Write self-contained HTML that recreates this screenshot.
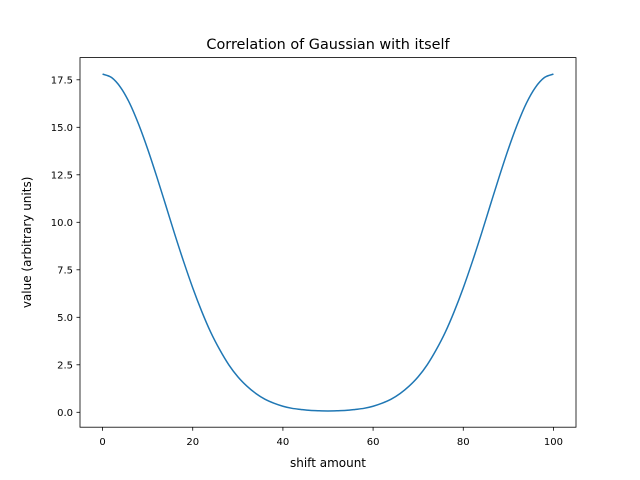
<!DOCTYPE html>
<html><head><meta charset="utf-8"><style>
body{margin:0;background:#fff;}
svg{display:block;font-family:"DejaVu Sans","Liberation Sans",sans-serif;}
</style></head><body>
<svg id="chart" width="640" height="480" viewBox="0 0 640 480">
<rect width="640" height="480" fill="#fff"/>
<text x="328" y="49" text-anchor="middle" font-size="14.4">Correlation of Gaussian with itself</text>
<g id="xt"></g>
<g id="yt"></g>
<path id="line" fill="none" stroke="#1f77b4" stroke-width="1.5"/>
<rect x="80" y="57.6" width="496" height="369.6" fill="none" stroke="#000" stroke-width="0.8"/>
<text x="328" y="467" text-anchor="middle" font-size="12">shift amount</text>
<text transform="translate(31,242.4) rotate(-90)" text-anchor="middle" font-size="12">value (arbitrary units)</text>
</svg>
<script>
const xs = [0,2,4,6,8,10,12,14,16,18,20,22,24,26,28,30,32,34,36,38,40,42,44,46,48,50,52,54,56,58,60,62,64,66,68,70,72,74,76,78,80,82,84,86,88,90,92,94,96,98,100];
const ys = [17.80,17.62,17.10,16.27,15.16,13.86,12.42,10.91,9.38,7.92,6.55,5.31,4.21,3.29,2.50,1.87,1.38,0.99,0.69,0.48,0.32,0.21,0.15,0.10,0.08,0.07,0.08,0.10,0.15,0.21,0.32,0.48,0.69,0.99,1.38,1.87,2.50,3.29,4.21,5.31,6.55,7.92,9.38,10.91,12.42,13.86,15.16,16.27,17.10,17.62,17.80];
const xTicks = [0,20,40,60,80,100];
const yTicks = [0,2.5,5,7.5,10,12.5,15,17.5];
const yLabels = ["0.0","2.5","5.0","7.5","10.0","12.5","15.0","17.5"];
const X = v => 80 + (v + 5) / 110 * 496;
const Y = v => 412.3 - v * 19.0;
const ns = "http://www.w3.org/2000/svg";
const xt = document.getElementById('xt'), yt = document.getElementById('yt');
xTicks.forEach(t => {
  const l = document.createElementNS(ns,'line');
  l.setAttribute('x1',X(t));l.setAttribute('x2',X(t));l.setAttribute('y1',427.2);l.setAttribute('y2',430.7);l.setAttribute('stroke','#000');l.setAttribute('stroke-width','0.8');
  
  
  xt.appendChild(l);
  const s = document.createElementNS(ns,'text');
  s.setAttribute('x',X(t));s.setAttribute('y',445);s.setAttribute('text-anchor','middle');s.setAttribute('font-size','10');
  s.textContent = t;
  
  
  xt.appendChild(s);
});
yTicks.forEach((t,i) => {
  const l = document.createElementNS(ns,'line');
  l.setAttribute('x1',76.5);l.setAttribute('x2',80);l.setAttribute('y1',Y(t));l.setAttribute('y2',Y(t));l.setAttribute('stroke','#000');l.setAttribute('stroke-width','0.8');
  
  
  yt.appendChild(l);
  const s = document.createElementNS(ns,'text');
  s.setAttribute('x',73);s.setAttribute('y',Y(t)+3.6);s.setAttribute('text-anchor','end');s.setAttribute('font-size','10');
  s.textContent = yLabels[i];
  
  
  yt.appendChild(s);
});
// smooth Catmull-Rom path through data points
const P = xs.map((x,i)=>[X(x),Y(ys[i])]);
let d = 'M'+P[0][0].toFixed(2)+','+P[0][1].toFixed(2);
for(let i=0;i<P.length-1;i++){
  const p0=P[Math.max(i-1,0)],p1=P[i],p2=P[i+1],p3=P[Math.min(i+2,P.length-1)];
  const c1=[p1[0]+(p2[0]-p0[0])/6,p1[1]+(p2[1]-p0[1])/6];
  const c2=[p2[0]-(p3[0]-p1[0])/6,p2[1]-(p3[1]-p1[1])/6];
  d+=' C'+c1[0].toFixed(2)+','+c1[1].toFixed(2)+' '+c2[0].toFixed(2)+','+c2[1].toFixed(2)+' '+p2[0].toFixed(2)+','+p2[1].toFixed(2);
}
document.getElementById('line').setAttribute('d', d);
</script>
</body></html>
